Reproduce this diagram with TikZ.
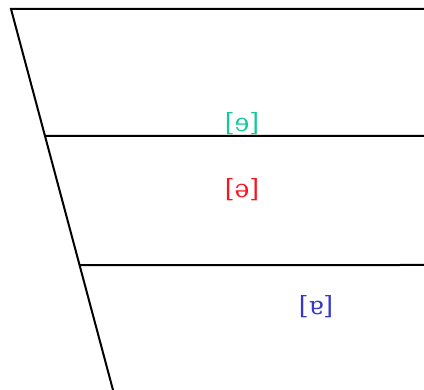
\documentclass[tikz,border=0pt]{standalone}
\usepackage{fontspec}
\newfontfamily\ipafont{DejaVu Serif}
\usepackage{xcolor}
\usetikzlibrary{positioning,calc}
\definecolor{vowelteal}{RGB}{20,200,155}
\definecolor{vowelred}{RGB}{250,20,30}
\definecolor{vowelblue}{RGB}{55,55,205}
\tikzset{
  chartline/.style={line width=2pt, line cap=round},
  vowel/.style={font=\ipafont\fontsize{25}{27}\selectfont, inner sep=0pt}
}

\begin{document}
\begin{tikzpicture}[x=1pt, y=-1pt]
  \useasboundingbox (0,0) rectangle (424,390);

  % Chart frame
  \coordinate (topleft) at (11,9);
  \coordinate (botleft) at (113,390);
  \draw[chartline] (424,9) -- (topleft) -- (botleft);

  % Height levels
  \draw[chartline] ($(topleft)!0.333!(botleft)$) -- (424,136);
  \draw[chartline] ($(topleft)!0.672!(botleft)$) -- (424,265);

  % Vowels
  \node[vowel, text=vowelteal] (closemid) at (242,124) {[ɘ]};
  \node[vowel, text=vowelred] (mid) at (242,190) {[ə]};
  \node[vowel, text=vowelblue] (nearopen) at (316,307) {[ɐ]};
\end{tikzpicture}
\end{document}
